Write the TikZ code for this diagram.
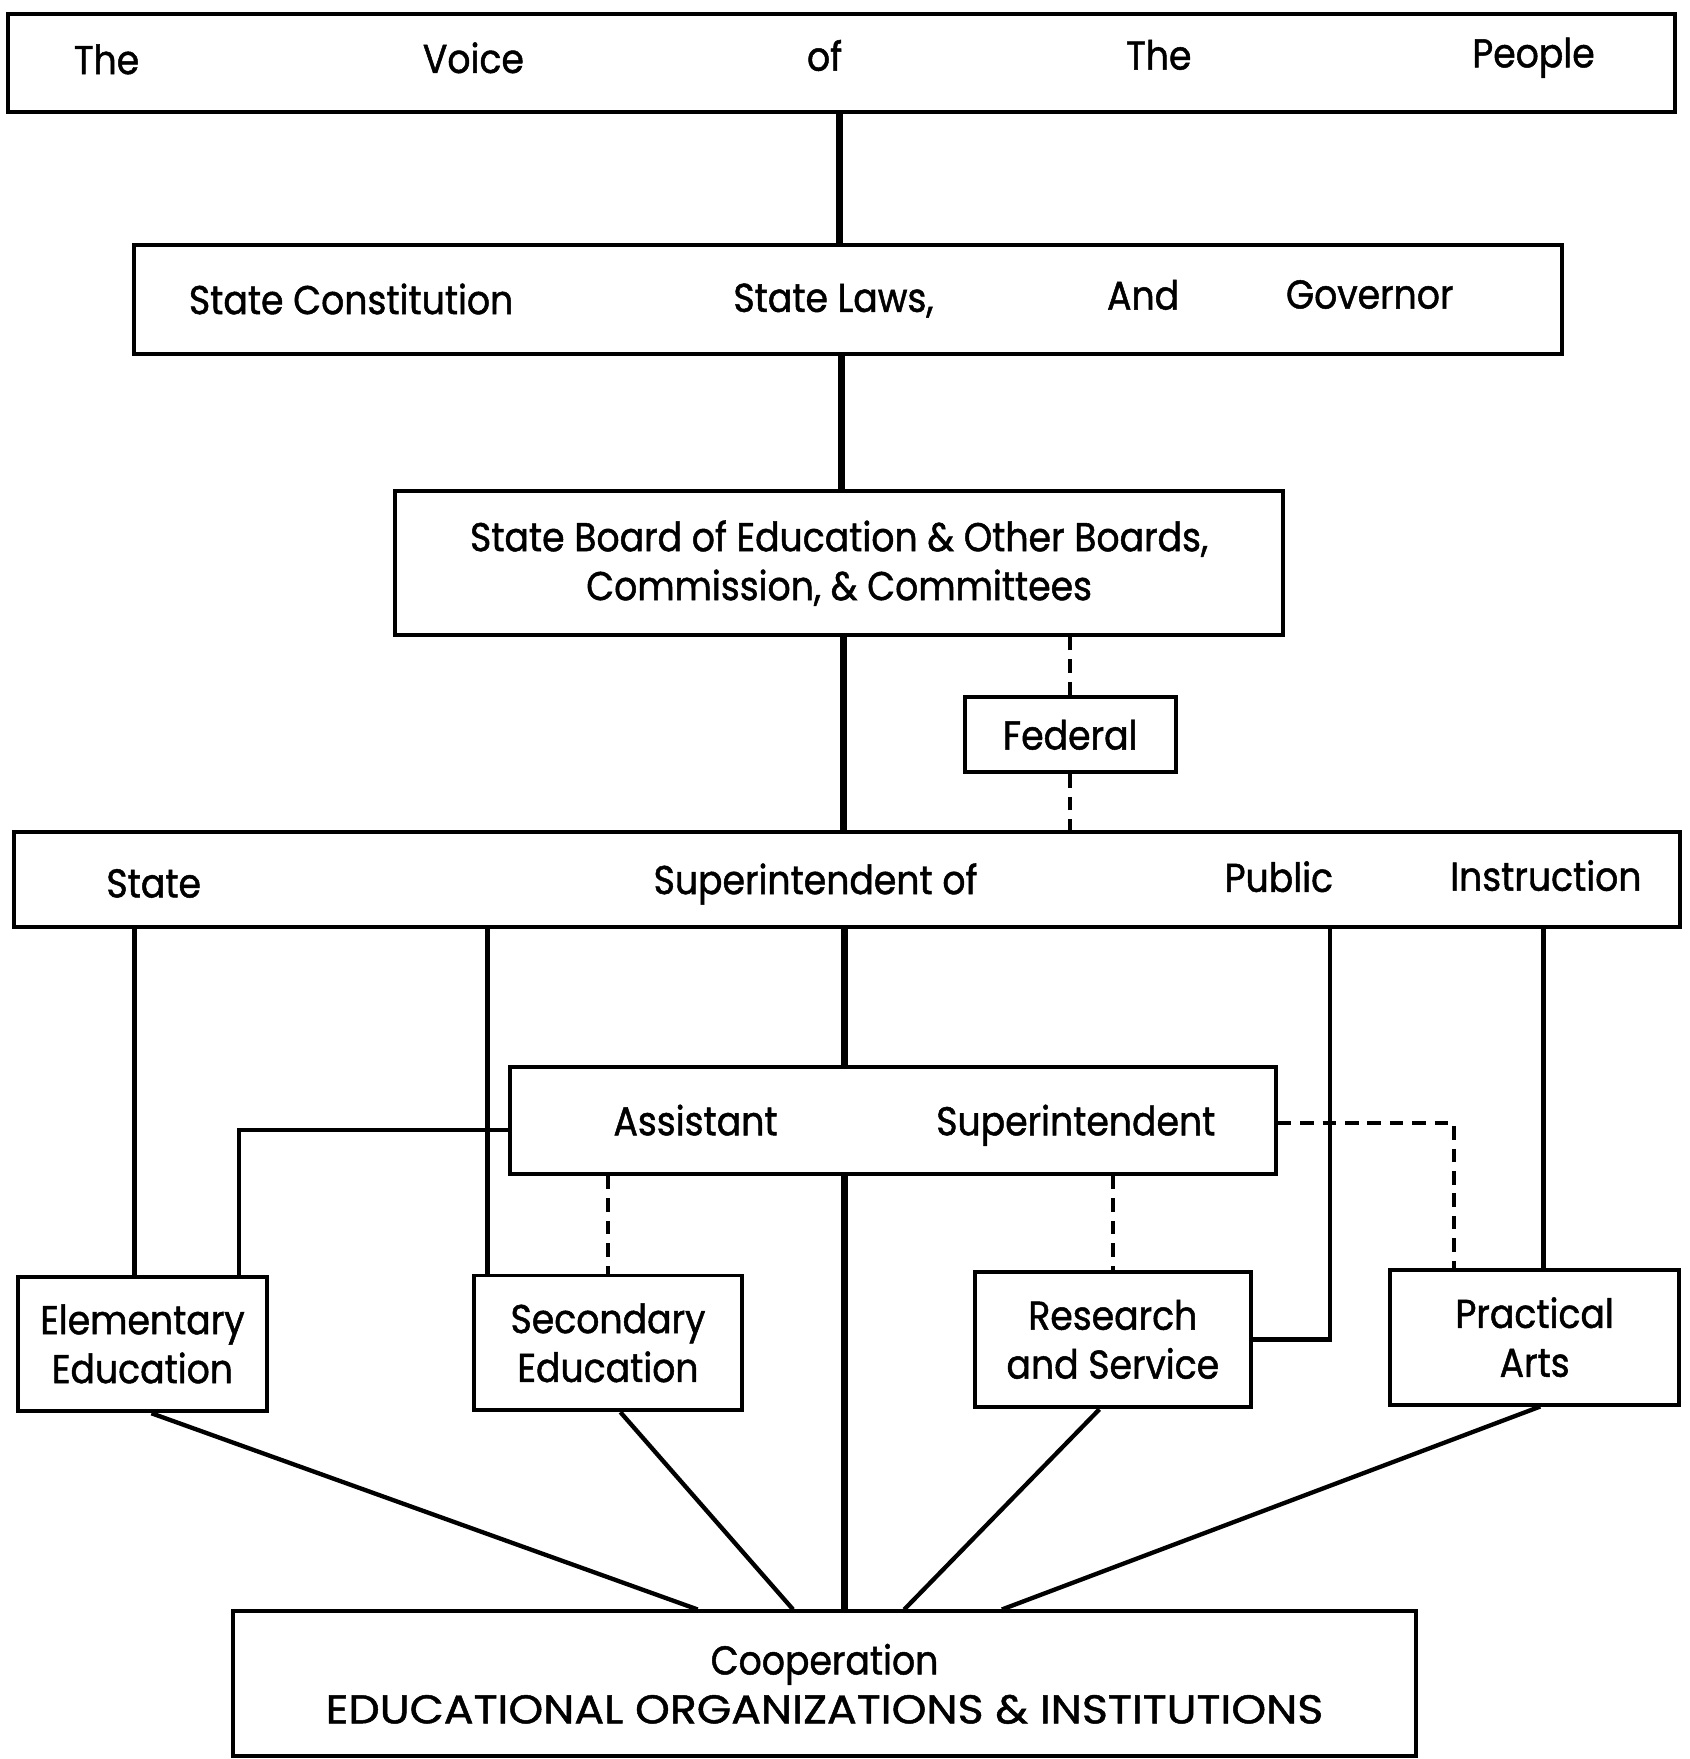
\documentclass[tikz,border=0pt]{standalone}
\usepackage{fontspec}
\setmainfont{Poppins}[FakeStretch=0.9,FakeBold=1.2]
\usepackage{tikz}

\begin{document}
\begin{tikzpicture}[x=0.01cm,y=-0.01cm,
  font=\fontsize{10.2}{12.4}\selectfont,
  box/.style={draw,line width=1pt,inner sep=0pt,align=center},
  word/.style={anchor=base,inner sep=0pt},
  spine/.style={line width=1.8pt},
  link/.style={line width=1.1pt},
  loose/.style={line width=0.9pt,dash pattern=on 0.12cm off 0.08cm}]
\useasboundingbox (0,0) rectangle (1506,1568);

\node[box,minimum width=14.85cm,minimum height=0.87cm](voice) at (750,56) {};
\node[word](the1) at (95,66) {The};
\node[word](voicew) at (422,65) {Voice};
\node[word](of1) at (735,63) {of};
\node[word](the2) at (1033,62) {The};
\node[word](people) at (1367,60) {People};

\node[box,minimum width=12.72cm,minimum height=0.97cm](laws) at (756,267) {};
\node[word](constitution) at (313,280) {State Constitution};
\node[word](statelaws) at (743,278) {State Laws,};
\node[word](and1) at (1019,276) {And};
\node[word](governor) at (1221,275) {Governor};

\node[box,minimum width=7.91cm,minimum height=1.28cm](board) at (748,502)
  {State Board of Education \& Other Boards,\\Commission, \& Committees};
\node[box,minimum width=1.88cm,minimum height=0.67cm](federal) at (954,655) {Federal};

\node[box,minimum width=14.85cm,minimum height=0.85cm](supt) at (755,784) {};
\node[word](state) at (137,800) {State};
\node[word](superof) at (727,797) {Superintendent of};
\node[word](public) at (1140,795) {Public};
\node[word](instruction) at (1378,794) {Instruction};

\node[box,minimum width=6.82cm,minimum height=0.95cm](asst) at (796,999) {};
\node[word](assistant) at (620,1012) {Assistant};
\node[word](superintendent) at (959,1012) {Superintendent};

\node[box,minimum width=2.22cm,minimum height=1.2cm](elem) at (127,1198) {Elementary\\Education};
\node[box,minimum width=2.39cm,minimum height=1.2cm](second) at (542,1197) {Secondary\\Education};
\node[box,minimum width=2.46cm,minimum height=1.21cm](research) at (992,1194) {Research\\and Service};
\node[box,minimum width=2.58cm,minimum height=1.2cm](practical) at (1368,1192) {Practical\\Arts};

\node[box,minimum width=10.54cm,minimum height=1.29cm](coop) at (735,1501)
  {Cooperation\\{\addfontfeature{FakeStretch=1.1}EDUCATIONAL ORGANIZATIONS \& INSTITUTIONS}};

% main line of authority
\draw[spine](voice.south -| 748,0) -- (laws.north -| 748,0);
\draw[spine](laws.south -| 750,0) -- (board.north -| 750,0);
\draw[spine](board.south -| 752,0) -- (supt.north -| 752,0);
\draw[spine](supt.south -| 753,0) -- (asst.north -| 753,0);
\draw[spine](asst.south -| 753,0) -- (coop.north -| 753,0);

% federal advice
\draw[loose](board.south -| federal.north) -- (federal.north);
\draw[loose](federal.south) -- (federal.south |- supt.north);

% divisions under the superintendent
\draw[link]([xshift=-0.07cm]elem.north) -- ([xshift=-0.07cm]elem.north |- supt.south);
\draw[link]([xshift=0.14cm]second.north west) -- ([xshift=0.14cm]second.north west |- supt.south);
\draw[link]([xshift=0.69cm]research.east |- supt.south) |- (research.east);
\draw[link]([xshift=0.08cm]practical.north) -- ([xshift=0.08cm]practical.north |- supt.south);
\draw[link]([yshift=-0.08cm]asst.west) -| ([xshift=-0.27cm]elem.north east);

% assistant superintendent, staff lines
\draw[loose](asst.south -| second.north) -- (second.north);
\draw[loose](asst.south -| research.north) -- (research.north);
\draw[loose]([yshift=-0.02cm]asst.east) -| ([xshift=0.59cm]practical.north west);

% all divisions meet in cooperation
\draw[link]([xshift=0.08cm]elem.south) -- ([xshift=-1.13cm]coop.north);
\draw[link]([xshift=0.11cm]second.south) -- ([xshift=-0.28cm]coop.north);
\draw[link]([xshift=-0.12cm]research.south) -- ([xshift=0.71cm]coop.north);
\draw[link]([xshift=0.05cm]practical.south) -- ([xshift=1.58cm]coop.north);
\end{tikzpicture}
\end{document}
